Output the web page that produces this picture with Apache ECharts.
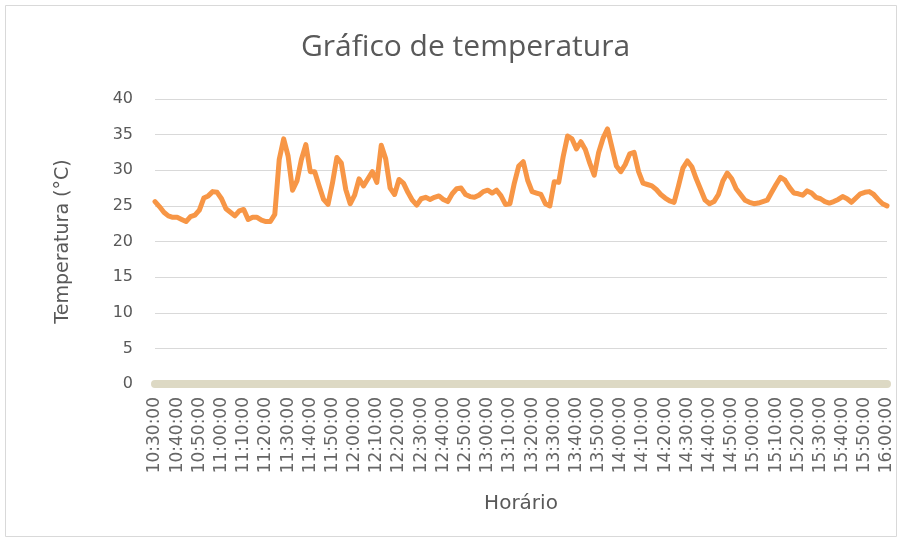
<!DOCTYPE html>
<html>
<head>
<meta charset="utf-8">
<script src="https://cdn.jsdelivr.net/npm/echarts@6/dist/echarts.min.js"></script>
<style>html,body{margin:0;padding:0;background:#fff}#c{width:902px;height:542px}</style>
</head>
<body>
<div id="c"></div>
<script>
// Time categories every 2 minutes from 10:30:00 to 16:00:00
const startMinutes = 10 * 60 + 30;
const endMinutes = 16 * 60;
const stepMinutes = 2;
const categories = [];
for (let t = startMinutes; t <= endMinutes; t += stepMinutes) {
  const h = Math.floor(t / 60), m = t % 60;
  categories.push(String(h).padStart(2, '0') + ':' + String(m).padStart(2, '0') + ':00');
}

// Temperature (°C), one value per 2 minutes
const temperatura = [
  25.6, 24.9, 24.1, 23.6, 23.4, 23.4, 23.1, 22.8, 23.5, 23.7,
  24.4, 26.1, 26.4, 27.0, 26.9, 26.0, 24.6, 24.1, 23.6, 24.3,
  24.5, 23.1, 23.4, 23.4, 23.0, 22.8, 22.8, 23.8, 31.5, 34.4,
  32.0, 27.2, 28.5, 31.5, 33.6, 29.8, 29.8, 27.8, 25.9, 25.2,
  28.2, 31.8, 31.0, 27.3, 25.3, 26.5, 28.8, 27.8, 28.8, 29.8,
  28.3, 33.5, 31.6, 27.5, 26.6, 28.7, 28.2, 26.9, 25.8, 25.1,
  26.0, 26.2, 25.9, 26.2, 26.4, 25.9, 25.6, 26.7, 27.4, 27.5,
  26.6, 26.3, 26.2, 26.5, 27.0, 27.2, 26.8, 27.2, 26.4, 25.2,
  25.3, 28.2, 30.6, 31.2, 28.6, 27.0, 26.8, 26.6, 25.3, 25.0,
  28.4, 28.3, 31.9, 34.8, 34.4, 33.0, 34.0, 32.9, 31.0, 29.3,
  32.5, 34.5, 35.8, 33.2, 30.6, 29.8, 30.8, 32.3, 32.5, 29.8,
  28.2, 28.0, 27.8, 27.3, 26.6, 26.1, 25.7, 25.5, 27.8, 30.3,
  31.3, 30.5, 28.8, 27.3, 25.8, 25.3, 25.6, 26.6, 28.5, 29.6,
  28.8, 27.4, 26.6, 25.8, 25.5, 25.3, 25.4, 25.6, 25.8, 26.9,
  28.0, 29.0, 28.6, 27.6, 26.8, 26.7, 26.5, 27.1, 26.8, 26.2,
  26.0, 25.6, 25.4, 25.6, 25.9, 26.3, 26.0, 25.5, 26.1, 26.7,
  26.9, 27.0, 26.6, 25.9, 25.3, 25.0
];

// Second series: flat at zero
const serie2 = categories.map(() => 0);

const yTicks = { min: 0, max: 40, interval: 5 };

const chart = echarts.init(document.getElementById('c'), null, { renderer: 'canvas' });
const txt = '#595959';
chart.setOption({
  backgroundColor: '#ffffff',
  animation: false,
  title: {
    text: 'Gráfico de temperatura',
    left: 296, top: 27,
    textStyle: { fontFamily: 'Open Sans', fontWeight: 'normal', fontSize: 30, color: txt }
  },
  graphic: [{
    type: 'rect', shape: { x: 5.5, y: 5.5, width: 891, height: 531 },
    style: { fill: 'none', stroke: '#d9d9d9', lineWidth: 1 }, silent: true, z: -1
  }],
  grid: { left: 155, right: 15, top: 99, bottom: 158, containLabel: false },
  xAxis: {
    type: 'category',
    data: categories,
    boundaryGap: false,
    name: 'Horário',
    nameLocation: 'middle',
    nameGap: 110,
    nameTextStyle: { fontFamily: 'DejaVu Sans', fontSize: 20, color: txt },
    axisLine: { show: false },
    axisTick: { show: false },
    axisLabel: {
      interval: 4, rotate: 90, margin: 13,
      fontFamily: 'DejaVu Sans', fontSize: 17, color: '#666666'
    },
    splitLine: { show: false }
  },
  yAxis: {
    type: 'value',
    min: yTicks.min, max: yTicks.max, interval: yTicks.interval,
    name: 'Temperatura (°C)',
    nameLocation: 'middle',
    nameGap: 82,
    nameTextStyle: { fontFamily: 'DejaVu Sans', fontSize: 19, color: txt },
    axisLine: { show: false },
    axisTick: { show: false },
    axisLabel: { margin: 22, fontFamily: 'DejaVu Sans', fontSize: 16, color: txt },
    splitLine: { lineStyle: { color: '#d9d9d9', width: 1 } }
  },
  series: [
    {
      name: 'Série 2', type: 'line', data: serie2, symbol: 'none',
      lineStyle: { color: '#ddd9c4', width: 8, cap: 'round' }, z: 2
    },
    {
      name: 'Temperatura', type: 'line', data: temperatura, symbol: 'none',
      lineStyle: { color: '#f79646', width: 5, join: 'round', cap: 'round' }, z: 3
    }
  ]
});
</script>
</body>
</html>
